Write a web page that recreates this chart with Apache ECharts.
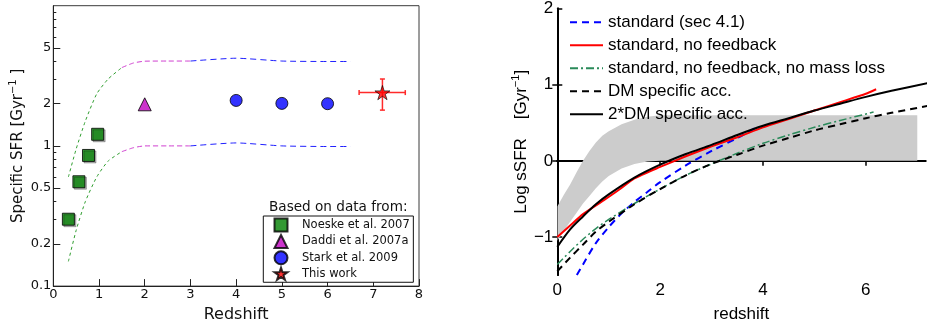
<!DOCTYPE html>
<html><head><meta charset="utf-8">
<script src="https://cdn.jsdelivr.net/npm/echarts@6/dist/echarts.min.js"></script>
<style>html,body{margin:0;padding:0;background:#fff;}#c{width:927px;height:329px;}</style>
</head><body><div id="c"></div>
<script>
// ---------- Left panel data (Specific SFR, Gyr^-1) ----------
const noeskeZ = [0.33, 0.56, 0.77, 0.97];
const noeskeS = [0.30, 0.555, 0.855, 1.21];
const daddiZ = [2.0];
const daddiS = [1.98];
const starkZ = [4.0, 5.0, 6.0];
const starkS = [2.11, 2.01, 2.0];
const thisZ = [7.2];
const thisS = [2.4];
const thisZLo = [6.69];
const thisZHi = [7.70];
const thisSLo = [1.8];
const thisSHi = [3.0];

const greenUpZ = [0.33, 0.5, 0.7, 0.95, 1.2, 1.5];
const greenUpS = [0.60, 0.95, 1.5, 2.35, 3.0, 3.62];
const greenLoZ = [0.33, 0.5, 0.7, 0.95, 1.2, 1.5];
const greenLoS = [0.15, 0.25, 0.40, 0.60, 0.78, 0.91];
const magUpZ = [1.5, 1.75, 2.0, 2.5, 3.0];
const magUpS = [3.62, 3.9, 4.02, 4.03, 4.03];
const magLoZ = [1.5, 1.75, 2.0, 2.5, 3.0];
const magLoS = [0.91, 0.97, 1.0, 1.0, 1.0];
const blueUpZ = [3.0, 4.0, 5.0, 6.0, 6.5];
const blueUpS = [4.03, 4.22, 4.03, 4.0, 4.0];
const blueLoZ = [3.0, 4.0, 5.0, 6.0, 6.5];
const blueLoS = [1.0, 1.05, 1.0, 0.99, 0.99];

const leftYMajor = [0.1, 0.2, 0.5, 1, 2, 5];
const leftYMinor = [0.3, 0.4, 0.6, 0.7, 0.8, 0.9, 3, 4, 6, 7, 8, 9];
const leftXTicks = [0, 1, 2, 3, 4, 5, 6, 7, 8];

// ---------- Right panel data (Log sSFR) ----------
const bandZ = [0, 0.125, 0.25, 0.375, 0.5, 0.625, 0.75, 0.875, 1.0, 1.25, 1.5, 1.75, 2.0, 2.25, 7.0];
const bandUp = [-0.6, -0.45, -0.31, -0.15, 0.0, 0.13, 0.24, 0.33, 0.39, 0.48, 0.54, 0.58, 0.6, 0.6, 0.6];
const bandLo = [-1.05, -0.92, -0.8, -0.68, -0.56, -0.46, -0.36, -0.27, -0.2, -0.1, -0.04, -0.01, 0, 0, 0];

const stdZ = [0.38, 0.5, 0.75, 1.0, 1.25, 1.5, 1.75, 2.0, 2.5, 3.0, 3.5, 3.85];
const stdV = [-1.5, -1.36, -1.08, -0.87, -0.69, -0.54, -0.41, -0.28, -0.06, 0.13, 0.3, 0.43];
const nofbZ = [0, 0.25, 0.5, 0.9, 1.2, 1.5, 2.0, 2.5, 3.0, 3.5, 4.0, 4.5, 5.0, 5.5, 6.0, 6.2];
const nofbV = [-1.0, -0.85, -0.7, -0.52, -0.38, -0.23, -0.08, 0.06, 0.19, 0.31, 0.44, 0.55, 0.66, 0.77, 0.88, 0.94];
const nomlZ = [0, 0.25, 0.5, 0.75, 1.0, 1.5, 2.0, 2.5, 3.0, 3.5, 4.0, 4.5, 5.0, 5.5, 6.15];
const nomlV = [-1.36, -1.19, -1.03, -0.89, -0.77, -0.56, -0.37, -0.19, -0.04, 0.1, 0.23, 0.34, 0.44, 0.53, 0.64];
const dmZ = [0, 0.25, 0.5, 0.75, 1.0, 1.5, 2.0, 2.5, 3.0, 3.5, 4.0, 4.5, 5.0, 5.5, 6.0, 6.5, 7.2];
const dmV = [-1.45, -1.27, -1.1, -0.93, -0.8, -0.57, -0.37, -0.19, -0.04, 0.08, 0.2, 0.3, 0.4, 0.48, 0.56, 0.63, 0.72];
const dm2Z = [0, 0.25, 0.5, 0.75, 1.0, 1.5, 2.0, 2.5, 3.0, 3.5, 4.0, 4.5, 5.0, 5.5, 6.0, 6.5, 7.2];
const dm2V = [-1.13, -0.9, -0.73, -0.57, -0.44, -0.22, -0.05, 0.09, 0.21, 0.34, 0.46, 0.56, 0.66, 0.75, 0.84, 0.92, 1.02];

const rightXTicks = [0, 2, 4, 6];
const rightYTicks = [-1, 0, 1, 2];

const zip = (a, b) => a.map((v, i) => [v, b[i]]);
const FL = 'DejaVu Sans';
const FR = 'Liberation Sans';
const starPath = 'path://M50,0 L61.2,34.5 L97.6,34.5 L68.2,55.9 L79.4,90.5 L50,69.1 L20.6,90.5 L31.8,55.9 L2.4,34.5 L38.8,34.5 Z';

const chart = echarts.init(document.getElementById('c'), null, {renderer: 'canvas'});

function dashLine(name, z, v, color, dash) {
  return {type: 'line', name: name, xAxisIndex: 0, yAxisIndex: 0, data: zip(z, v),
    symbol: 'none', smooth: 0.2, silent: true, z: 2,
    lineStyle: {color: color, width: 1, type: dash}};
}

const option = {
  animation: false,
  backgroundColor: '#ffffff',
  textStyle: {fontFamily: FL},
  title: {text: 'Based on data from:', left: 269, top: 199, padding: 0,
    textStyle: {fontFamily: FL, fontSize: 13.6, fontWeight: 'normal', color: '#111', lineHeight: 16}},
  grid: [
    {left: 53.3, right: 508, top: 5.7, bottom: 39, show: true, borderColor: '#3a3a3a', borderWidth: 1, backgroundColor: 'transparent'},
    {left: 557.3, right: 1.5, top: 2.7, bottom: 43}
  ],
  legend: [
    {data: ['Noeske et al. 2007', 'Daddi et al. 2007a', 'Stark et al. 2009', 'This work'],
      orient: 'vertical', left: 263.3, top: 216, padding: [1.6, 3.6, 1.3, 10.2],
      itemWidth: 13, itemHeight: 13, itemGap: 1.34, borderColor: '#111', borderWidth: 1,
      backgroundColor: '#ffffff', selectedMode: false,
      formatter: n => '{t|' + n + '}',
      textStyle: {fontFamily: FL, fontSize: 11.5, color: '#111', lineHeight: 14,
        rich: {t: {fontFamily: FL, fontSize: 11.5, color: '#111', lineHeight: 14, padding: [0, 0, 0, 9.5]}}}},
    {data: ['standard (sec 4.1)', 'standard, no feedback', 'standard, no feedback, no mass loss', 'DM specific acc.', '2*DM specific acc.'],
      orient: 'vertical', left: 569, top: 13.7, padding: 0, itemWidth: 33, itemHeight: 14, itemGap: 6,
      selectedMode: false,
      itemStyle: {color: 'rgba(0,0,0,0)', borderColor: 'rgba(0,0,0,0)', borderWidth: 0},
      textStyle: {fontFamily: FR, fontSize: 17, color: '#000'}}
  ],
  xAxis: [
    {gridIndex: 0, type: 'value', min: 0, max: 8, interval: 1,
      axisLine: {lineStyle: {color: '#222', width: 1}},
      axisTick: {inside: true, length: 7, lineStyle: {color: '#222'}, customValues: leftXTicks},
      axisLabel: {fontFamily: FL, fontSize: 13, color: '#111', margin: 2, customValues: leftXTicks},
      splitLine: {show: false},
      name: 'Redshift', nameLocation: 'middle', nameGap: 14,
      nameTextStyle: {fontFamily: FL, fontSize: 16, color: '#111', lineHeight: 18}},
    {gridIndex: 1, type: 'value', min: 0, max: 7.16,
      axisLine: {lineStyle: {color: '#000', width: 2}},
      axisTick: {inside: true, length: 5, lineStyle: {color: '#000', width: 1.5}, customValues: rightXTicks},
      axisLabel: {fontFamily: FR, fontSize: 17, color: '#000', margin: 7, lineHeight: 17, customValues: rightXTicks},
      splitLine: {show: false},
      name: 'redshift', nameLocation: 'middle', nameGap: 22,
      nameTextStyle: {fontFamily: FR, fontSize: 17, color: '#000', lineHeight: 20}},
    {gridIndex: 1, type: 'value', min: 0, max: 7.16, position: 'top',
      axisLine: {lineStyle: {color: '#000', width: 2}},
      axisTick: {inside: true, length: 5, lineStyle: {color: '#000', width: 1.5}, customValues: [2, 4, 6]},
      axisLabel: {show: false}, splitLine: {show: false}}
  ],
  yAxis: [
    {gridIndex: 0, type: 'log', logBase: 10, min: 0.1, max: 10,
      axisLine: {lineStyle: {color: '#222', width: 1}},
      axisTick: {inside: true, length: 7, lineStyle: {color: '#222'}, customValues: leftYMajor},
      axisLabel: {fontFamily: FL, fontSize: 13, color: '#111', margin: 2, customValues: leftYMajor,
        formatter: v => String(+Number(v).toPrecision(3))},
      splitLine: {show: false}, minorTick: {show: false},
      name: '{a|Specific SFR [Gyr}{s|\u22121}{a| ]}', nameLocation: 'middle', nameGap: 25,
      nameTextStyle: {color: '#111', rich: {
        a: {fontFamily: FL, fontSize: 15, color: '#111', lineHeight: 20},
        s: {fontFamily: FL, fontSize: 10, color: '#111', lineHeight: 12, verticalAlign: 'top'}}}},
    {gridIndex: 0, type: 'log', logBase: 10, min: 0.1, max: 10, position: 'left', offset: 0,
      axisLine: {show: false},
      axisTick: {inside: true, length: 3, lineStyle: {color: '#222'}, customValues: leftYMinor},
      axisLabel: {show: false}, splitLine: {show: false}},
    {gridIndex: 1, type: 'value', min: -1.5, max: 2,
      axisLine: {lineStyle: {color: '#000', width: 2}},
      axisTick: {inside: true, length: 5, lineStyle: {color: '#000', width: 1.5}, customValues: rightYTicks},
      axisLabel: {fontFamily: FR, fontSize: 17, color: '#000', margin: 4, customValues: rightYTicks,
        formatter: v => (v < 0 ? '\u2212' + Math.abs(v) : String(v))},
      splitLine: {show: false},
      name: '{a|Log sSFR    [Gyr}{s|\u22121}{a|]}', nameLocation: 'middle', nameGap: 24,
      nameTextStyle: {color: '#000', rich: {
        a: {fontFamily: FR, fontSize: 17, color: '#000', lineHeight: 22},
        s: {fontFamily: FR, fontSize: 11, color: '#000', lineHeight: 13, verticalAlign: 'top'}}}},
    {gridIndex: 1, type: 'value', min: -1.5, max: 2, position: 'right',
      axisLine: {lineStyle: {color: '#000', width: 2}},
      axisTick: {inside: true, length: 5, lineStyle: {color: '#000', width: 1.5}, customValues: [-1, 0, 1]},
      axisLabel: {show: false}, splitLine: {show: false}}
  ],
  series: [
    dashLine('gu', greenUpZ, greenUpS, '#2f9e2f', [3, 3]),
    dashLine('gl', greenLoZ, greenLoS, '#2f9e2f', [3, 3]),
    dashLine('mu', magUpZ, magUpS, '#d040d0', [5, 3]),
    dashLine('ml', magLoZ, magLoS, '#d040d0', [5, 3]),
    dashLine('bu', blueUpZ, blueUpS, '#2020ff', [6, 4]),
    dashLine('bl', blueLoZ, blueLoS, '#2020ff', [6, 4]),
    {type: 'scatter', name: 'Noeske et al. 2007', xAxisIndex: 0, yAxisIndex: 0, data: zip(noeskeZ, noeskeS),
      symbol: 'rect', symbolSize: 12, z: 5,
      itemStyle: {color: '#008000', borderColor: '#000', borderWidth: 1, shadowColor: 'rgba(0,0,0,0.35)', shadowOffsetX: 1.5, shadowOffsetY: 1.5, shadowBlur: 0}},
    {type: 'scatter', name: 'Daddi et al. 2007a', xAxisIndex: 0, yAxisIndex: 0, data: zip(daddiZ, daddiS),
      symbol: 'triangle', symbolSize: 13, z: 5,
      itemStyle: {color: '#bf00bf', borderColor: '#000', borderWidth: 1}},
    {type: 'scatter', name: 'Stark et al. 2009', xAxisIndex: 0, yAxisIndex: 0, data: zip(starkZ, starkS),
      symbol: 'circle', symbolSize: 12, z: 5,
      itemStyle: {color: '#0000ff', borderColor: '#000', borderWidth: 1}},
    {type: 'custom', name: 'errbar', xAxisIndex: 0, yAxisIndex: 0, z: 4, silent: true,
      data: thisZ.map((z, i) => [z, thisS[i], thisZLo[i], thisZHi[i], thisSLo[i], thisSHi[i]]),
      encode: {x: 0, y: 1},
      renderItem: (params, api) => {
        const y = api.value(1), x = api.value(0);
        const l = api.coord([api.value(2), y]);
        const r = api.coord([api.value(3), y]);
        const b = api.coord([x, api.value(4)]);
        const t = api.coord([x, api.value(5)]);
        const st = {stroke: '#ff2a2a', lineWidth: 1.5};
        const cap = 2.5;
        return {type: 'group', children: [
          {type: 'line', shape: {x1: l[0], y1: l[1], x2: r[0], y2: r[1]}, style: st},
          {type: 'line', shape: {x1: b[0], y1: b[1], x2: t[0], y2: t[1]}, style: st},
          {type: 'line', shape: {x1: l[0], y1: l[1] - cap, x2: l[0], y2: l[1] + cap}, style: st},
          {type: 'line', shape: {x1: r[0], y1: r[1] - cap, x2: r[0], y2: r[1] + cap}, style: st},
          {type: 'line', shape: {x1: b[0] - cap, y1: b[1], x2: b[0] + cap, y2: b[1]}, style: st},
          {type: 'line', shape: {x1: t[0] - cap, y1: t[1], x2: t[0] + cap, y2: t[1]}, style: st}
        ]};
      }},
    {type: 'scatter', name: 'This work', xAxisIndex: 0, yAxisIndex: 0, data: zip(thisZ, thisS),
      symbol: starPath, symbolSize: 15, symbolKeepAspect: true, z: 6,
      itemStyle: {color: '#ff0000', borderColor: '#000', borderWidth: 0.8}},

    // right panel: grey band drawn as one polygon from the band arrays
    {type: 'custom', name: 'band', xAxisIndex: 1, yAxisIndex: 2, z: 1, silent: true,
      data: bandZ.map((z, i) => [z, bandLo[i], bandUp[i]]),
      encode: {x: 0, y: [1, 2]},
      renderItem: (params, api) => {
        if (params.dataIndex !== 0) return null;
        const up = bandZ.map((z, i) => api.coord([z, bandUp[i]]));
        const lo = bandZ.map((z, i) => api.coord([z, bandLo[i]])).reverse();
        return {type: 'polygon', shape: {points: up.concat(lo), smooth: 0}, style: {fill: '#cccccc', stroke: null},
          clipPath: {type: 'rect', shape: {x: params.coordSys.x, y: params.coordSys.y, width: params.coordSys.width, height: params.coordSys.height}}};
      }},
    {type: 'line', name: 'standard (sec 4.1)', xAxisIndex: 1, yAxisIndex: 2, data: zip(stdZ, stdV),
      symbol: 'none', smooth: 0.3, z: 3, lineStyle: {color: '#0000ff', width: 2, type: [7, 5]}, itemStyle: {color: '#0000ff'}},
    {type: 'line', name: 'standard, no feedback', xAxisIndex: 1, yAxisIndex: 2, data: zip(nofbZ, nofbV),
      symbol: 'none', smooth: 0.2, z: 3, lineStyle: {color: '#ff0000', width: 2}, itemStyle: {color: '#ff0000'}},
    {type: 'line', name: 'standard, no feedback, no mass loss', xAxisIndex: 1, yAxisIndex: 2, data: zip(nomlZ, nomlV),
      symbol: 'none', smooth: 0.3, z: 3, lineStyle: {color: '#2a8a5a', width: 1.5, type: [8, 3, 2, 3]}, itemStyle: {color: '#2a8a5a'}},
    {type: 'line', name: 'DM specific acc.', xAxisIndex: 1, yAxisIndex: 2, data: zip(dmZ, dmV),
      symbol: 'none', smooth: 0.3, z: 3, lineStyle: {color: '#000', width: 2, type: [7, 5]}, itemStyle: {color: '#000'}},
    {type: 'line', name: '2*DM specific acc.', xAxisIndex: 1, yAxisIndex: 2, data: zip(dm2Z, dm2V),
      symbol: 'none', smooth: 0.3, z: 3, lineStyle: {color: '#000', width: 2}, itemStyle: {color: '#000'}}
  ]
};
chart.setOption(option);
</script></body></html>
